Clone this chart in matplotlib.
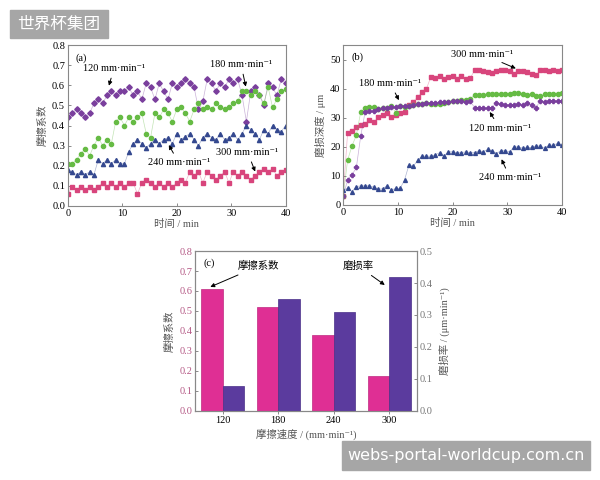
import numpy as np
import matplotlib
matplotlib.use('Agg')
import matplotlib.pyplot as plt
from matplotlib.patches import Rectangle

plt.rcParams['font.family'] = ['Liberation Serif', 'Noto Sans CJK SC', 'DejaVu Sans']

# ---- data (a): friction coefficient vs time ----
t_a = np.linspace(0, 40, 51)
fc_120 = [0.44, 0.46, 0.48, 0.46, 0.44, 0.46, 0.51, 0.53, 0.51, 0.55,
          0.57, 0.55, 0.57, 0.57, 0.59, 0.55, 0.57, 0.53, 0.61, 0.59,
          0.53, 0.61, 0.57, 0.53, 0.61, 0.59, 0.61, 0.63, 0.61, 0.59,
          0.48, 0.52, 0.63, 0.61, 0.57, 0.61, 0.59, 0.63, 0.61, 0.63,
          0.55, 0.42, 0.57, 0.59, 0.55, 0.50, 0.61, 0.59, 0.55, 0.63, 0.61]
fc_180 = [0.21, 0.21, 0.23, 0.26, 0.285, 0.25, 0.30, 0.34, 0.30, 0.33,
          0.31, 0.42, 0.44, 0.40, 0.44, 0.42, 0.44, 0.46, 0.36, 0.34,
          0.46, 0.44, 0.48, 0.46, 0.42, 0.48, 0.49, 0.46, 0.42, 0.48,
          0.51, 0.48, 0.49, 0.48, 0.51, 0.49, 0.48, 0.49, 0.51, 0.52,
          0.57, 0.57, 0.55, 0.57, 0.55, 0.51, 0.59, 0.49, 0.53, 0.57, 0.58]
fc_240 = [0.18, 0.17, 0.155, 0.17, 0.155, 0.17, 0.155, 0.23, 0.21, 0.23,
          0.21, 0.23, 0.21, 0.21, 0.27, 0.31, 0.33, 0.31, 0.29, 0.31,
          0.33, 0.31, 0.33, 0.34, 0.31, 0.36, 0.33, 0.345, 0.36, 0.33,
          0.30, 0.34, 0.36, 0.34, 0.33, 0.36, 0.33, 0.34, 0.36, 0.33,
          0.36, 0.40, 0.38, 0.36, 0.33, 0.38, 0.36, 0.40, 0.38, 0.37, 0.40]
fc_300 = [0.06, 0.095, 0.08, 0.095, 0.08, 0.095, 0.08, 0.095, 0.115, 0.095,
          0.115, 0.095, 0.115, 0.095, 0.115, 0.115, 0.06, 0.115, 0.13, 0.115,
          0.095, 0.115, 0.095, 0.115, 0.095, 0.115, 0.13, 0.115, 0.17, 0.15,
          0.17, 0.115, 0.17, 0.15, 0.13, 0.15, 0.17, 0.115, 0.17, 0.15,
          0.17, 0.15, 0.13, 0.15, 0.17, 0.185, 0.17, 0.185, 0.15, 0.17, 0.18]

# ---- data (b): wear depth vs time ----
t_b = np.linspace(0, 40, 51)
wd_120 = [3, 8.6, 10.3, 12.9, 23.7, 32.0, 32.4, 32.4, 33.0, 33.4,
          33.4, 33.8, 33.8, 34.0, 34.0, 34.2, 34.5, 34.8, 34.9, 35.0,
          35.0, 35.2, 35.3, 35.4, 35.5, 35.6, 35.6, 35.7, 35.5, 35.7,
          33.5, 33.5, 33.2, 33.4, 33.5, 35.1, 34.7, 34.3, 34.3, 34.3,
          34.7, 34.3, 35.1, 34.3, 33.5, 35.8, 35.5, 35.8, 35.8, 35.8, 35.8]
wd_180 = [3, 15.4, 20.3, 24.0, 32.0, 33.2, 33.8, 33.8, 33.0, 33.2,
          33.5, 34.0, 31.8, 34.0, 33.8, 34.0, 34.3, 34.7, 34.9, 35.1,
          34.7, 34.9, 34.9, 35.1, 35.5, 35.8, 35.8, 36.0, 36.0, 36.6,
          37.8, 37.8, 37.8, 38.1, 38.1, 38.1, 38.3, 38.3, 38.1, 38.6,
          38.6, 38.1, 37.8, 38.3, 37.4, 37.4, 38.1, 38.1, 38.3, 38.3, 38.6]
wd_240 = [5.1, 5.7, 4.6, 6.3, 6.6, 6.6, 6.6, 6.1, 5.4, 5.6,
          6.6, 5.1, 5.7, 5.7, 8.6, 13.7, 13.3, 15.4, 16.8, 16.8,
          16.8, 17.2, 18.0, 16.8, 18.3, 18.3, 18.0, 18.0, 18.3, 18.0,
          18.0, 18.7, 18.3, 19.1, 18.7, 17.7, 18.7, 18.7, 18.3, 20.0,
          20.0, 19.5, 19.8, 19.8, 20.3, 20.3, 19.5, 20.6, 20.6, 21.2, 20.6]
wd_300 = [3, 24.8, 25.4, 26.7, 27.5, 27.9, 29.2, 28.6, 30.1, 30.9,
          31.7, 30.1, 30.9, 31.5, 32.0, 34.3, 35.5, 37.2, 38.7, 40.0,
          44.0, 43.8, 44.3, 43.5, 44.0, 44.4, 43.5, 44.3, 43.5, 43.7,
          46.3, 46.3, 46.1, 45.8, 45.4, 46.1, 46.3, 46.6, 46.1, 45.2,
          46.1, 46.1, 45.8, 45.0, 44.6, 46.3, 46.6, 46.1, 46.3, 46.1, 46.6]

# ---- data (c): bars ----
speeds = ['120', '180', '240', '300']
fc_mean = [0.61, 0.52, 0.378, 0.175]
wear_rate = [0.077, 0.351, 0.309, 0.42]

c120 = '#7a3f9d'
c180 = '#66bb44'
c240 = '#34488f'
c300 = '#d8457c'
unit = 'mm·min⁻¹'
fs = 7.5

fig = plt.figure(figsize=(6, 4.8), dpi=100)

def style(ax):
    for s in ax.spines.values():
        s.set_color('#888888')
        s.set_linewidth(0.8)
    ax.tick_params(direction='in', length=2.5, width=0.6, labelsize=fs, color='#777777', pad=2)

def series(ax, t, y, c, m, ms):
    ax.plot(t, y, color=c, lw=0.5, alpha=0.4)
    ax.plot(t, y, ls='none', marker=m, ms=ms, color=c, mec=c)

arrow = dict(arrowstyle='-|>', color='black', lw=0.7, mutation_scale=6)

# ---------------- (a) ----------------
ax1 = fig.add_axes([0.113, 0.571, 0.363, 0.335])
series(ax1, t_a, fc_120, c120, 'D', 2.8)
series(ax1, t_a, fc_180, c180, 'o', 3.0)
series(ax1, t_a, fc_240, c240, '^', 3.0)
series(ax1, t_a, fc_300, c300, 's', 2.6)
ax1.set_xlim(0, 40)
ax1.set_ylim(0, 0.8)
ax1.set_xticks([0, 10, 20, 30, 40])
ax1.set_yticks(np.arange(0, 0.81, 0.1))
ax1.set_yticklabels(['%.1f' % v for v in np.arange(0, 0.81, 0.1)])
style(ax1)
ax1.set_xlabel('时间 / min', fontsize=fs, color='#555555', labelpad=1)
ax1.set_ylabel('摩擦系数', fontsize=fs, color='#555555', labelpad=3)
ax1.text(2.5, 0.735, '(a)', fontsize=fs, ha='center', va='center')
ax1.annotate('120 ' + unit, xy=(7.4, 0.585), xytext=(8.5, 0.685), fontsize=fs,
             ha='center', va='center', arrowprops=arrow)
ax1.annotate('180 ' + unit, xy=(32.8, 0.58), xytext=(31.8, 0.705), fontsize=fs,
             ha='center', va='center', arrowprops=arrow)
ax1.annotate('240 ' + unit, xy=(18.3, 0.315), xytext=(20.4, 0.214), fontsize=fs,
             ha='center', va='center', arrowprops=arrow)
ax1.annotate('300 ' + unit, xy=(34.6, 0.158), xytext=(33.0, 0.268), fontsize=fs,
             ha='center', va='center', arrowprops=arrow)

# ---------------- (b) ----------------
ax2 = fig.add_axes([0.572, 0.573, 0.365, 0.333])
series(ax2, t_b, wd_300, c300, 's', 2.4)
series(ax2, t_b, wd_180, c180, 'o', 3.0)
series(ax2, t_b, wd_120, c120, 'P', 3.0)
series(ax2, t_b, wd_240, c240, '^', 2.8)
ax2.set_xlim(0, 40)
ax2.set_ylim(0, 55)
ax2.set_xticks([0, 10, 20, 30, 40])
ax2.set_yticks([0, 10, 20, 30, 40, 50])
style(ax2)
ax2.set_xlabel('时间 / min', fontsize=fs, color='#555555', labelpad=1)
ax2.set_ylabel('磨损深度 / μm', fontsize=fs, color='#555555', labelpad=3)
ax2.text(2.6, 50.9, '(b)', fontsize=fs, ha='center', va='center')
ax2.annotate('300 ' + unit, xy=(32.0, 46.6), xytext=(25.4, 51.9), fontsize=fs,
             ha='center', va='center', arrowprops=arrow)
ax2.annotate('180 ' + unit, xy=(10.4, 35.2), xytext=(8.6, 41.9), fontsize=fs,
             ha='center', va='center', arrowprops=arrow)
ax2.annotate('120 ' + unit, xy=(26.5, 32.8), xytext=(28.6, 26.4), fontsize=fs,
             ha='center', va='center', arrowprops=arrow)
ax2.annotate('240 ' + unit, xy=(28.7, 16.6), xytext=(30.5, 9.3), fontsize=fs,
             ha='center', va='center', arrowprops=arrow)

# ---------------- (c) ----------------
ax3 = fig.add_axes([0.325, 0.144, 0.37, 0.333])
x = np.arange(len(speeds))
w = 0.39
ax3.bar(x - w / 2, fc_mean, w, color='#df2f94', edgecolor='#c02a80', lw=0.5)
ax3.set_xlim(-0.5, 3.5)
ax3.set_ylim(0, 0.8)
ax3.set_yticks(np.arange(0, 0.81, 0.1))
ax3.set_yticklabels(['%.1f' % v for v in np.arange(0, 0.81, 0.1)])
ax3.set_xticks(x)
ax3.set_xticklabels(speeds)
style(ax3)
ax3.tick_params(axis='y', labelcolor='#b55a86')
ax3.tick_params(axis='x', direction='out', length=2)
ax4 = ax3.twinx()
ax4.bar(x + w / 2, wear_rate, w, color='#5b3b9e', edgecolor='#4a2f88', lw=0.5)
ax4.set_ylim(0, 0.5)
ax4.set_yticks(np.arange(0, 0.51, 0.1))
ax4.set_yticklabels(['%.1f' % v for v in np.arange(0, 0.51, 0.1)])
style(ax4)
ax4.tick_params(axis='y', labelcolor='#777777')
ax3.set_xlabel('摩擦速度 / (' + unit + ')', fontsize=fs, color='#555555', labelpad=2)
ax3.set_ylabel('摩擦系数', fontsize=fs, color='#555555', labelpad=3)
ax4.set_ylabel('磨损率 / (μm·min⁻¹)', fontsize=fs, color='#555555', labelpad=4)
ax3.text(-0.25, 0.74, '(c)', fontsize=fs, ha='center', va='center')
ax3.annotate('摩擦系数', xy=(-0.27, 0.615), xytext=(0.65, 0.725), fontsize=fs,
             ha='center', va='center', arrowprops=arrow)
ax3.annotate('磨损率', xy=(2.96, 0.622), xytext=(2.44, 0.725), fontsize=fs,
             ha='center', va='center', arrowprops=arrow)

# ---------------- watermarks ----------------
fig.patches.append(Rectangle((10 / 600, 1 - 38 / 480), 98 / 600, 28 / 480,
                             transform=fig.transFigure, color='#a6a6a6', zorder=10))
fig.text(59 / 600, 1 - 24 / 480, '世界杯集团', family=['Noto Sans CJK SC'], fontsize=12,
         color='white', ha='center', va='center', zorder=11)
fig.patches.append(Rectangle((342 / 600, 1 - 470 / 480), 248 / 600, 29 / 480,
                             transform=fig.transFigure, color='#a6a6a6', zorder=10))
fig.text(466 / 600, 1 - 455.5 / 480, 'webs-portal-worldcup.com.cn', family=['DejaVu Sans'],
         fontsize=11.5, color='white', ha='center', va='center', zorder=11)

fig.savefig('out.png', dpi=100)
